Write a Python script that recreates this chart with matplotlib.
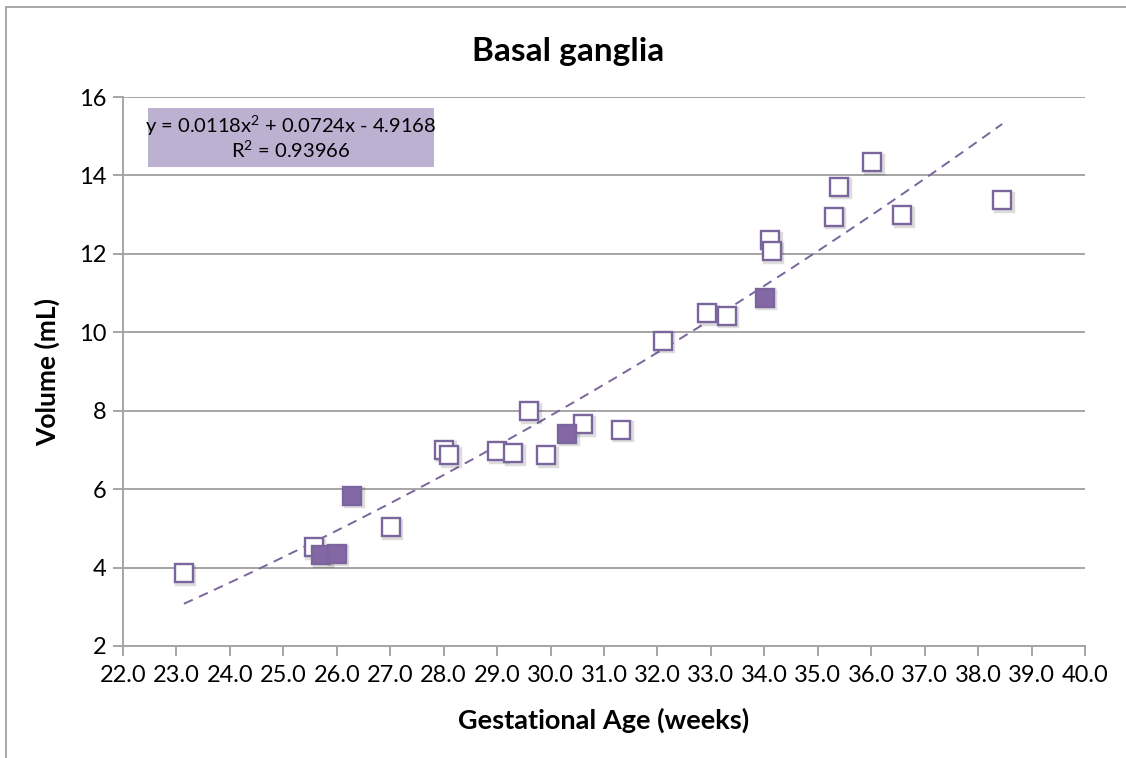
import matplotlib
matplotlib.use("Agg")
import matplotlib.pyplot as plt
import numpy as np
from matplotlib.lines import Line2D
from matplotlib.patches import Rectangle

plt.rcParams['font.family'] = ['Lato', 'DejaVu Sans']
plt.rcParams['mathtext.fontset'] = 'custom'
plt.rcParams['mathtext.rm'] = 'Lato'
plt.rcParams['mathtext.it'] = 'Lato:italic'
plt.rcParams['mathtext.bf'] = 'Lato:bold'

# Data
open_age = [23.14, 25.57, 27.01, 28.01, 28.10, 29.00, 29.30, 29.60, 29.92, 30.61,
             31.32, 32.10, 32.93, 33.30, 34.11, 34.14, 35.30, 35.40, 36.02, 36.58, 38.45]
open_vol = [3.86, 4.52, 5.03, 7.00, 6.87, 6.97, 6.92, 7.99, 6.87, 7.66,
            7.51, 9.78, 10.49, 10.42, 12.35, 12.07, 12.94, 13.71, 14.34, 12.99, 13.37]
filled_age = [25.71, 26.00, 26.29, 30.31, 34.01]
filled_vol = [4.32, 4.35, 5.83, 7.41, 10.88]

fit_coef = [0.0118, 0.0724, -4.9168]
r_squared = 0.93966

x_ticks = [22 + i for i in range(19)]
y_ticks = [2, 4, 6, 8, 10, 12, 14, 16]

purple_edge = '#7A659C'
purple_fill = '#8468A6'
grid_gray = '#A5A5A5'

fig = plt.figure(figsize=(11.26, 7.58), dpi=100)
ax = fig.add_axes([123/1126, 1-646/758, (1085-123)/1126, (646-97)/758])

ax.set_xlim(22, 40)
ax.set_ylim(2, 16)
ax.set_xticks(x_ticks)
ax.set_xticklabels([f"{t:.1f}" for t in x_ticks])
ax.set_yticks(y_ticks)
ax.set_yticklabels([str(t) for t in y_ticks])

ax.grid(axis='y', color=grid_gray, linewidth=1.4)
ax.set_axisbelow(True)
for s in ['top', 'right']:
    ax.spines[s].set_visible(False)
for s in ['left', 'bottom']:
    ax.spines[s].set_color(grid_gray)
    ax.spines[s].set_linewidth(1.4)
ax.tick_params(axis='both', colors=grid_gray, length=7, width=1.4, labelcolor='black',
               labelsize=17)
ax.tick_params(axis='x', pad=7)
ax.tick_params(axis='y', pad=5)

# trend line
all_age = np.array(open_age + filled_age)
xs = np.linspace(all_age.min(), all_age.max(), 200)
ys = np.polyval(fit_coef, xs)
ax.plot(xs, ys, linestyle=(0, (5, 3.5)), color=purple_edge, linewidth=1.4, zorder=2)

# shadows
shadow = ax.transData + matplotlib.transforms.ScaledTranslation(1.5/100, -1.5/100, fig.dpi_scale_trans)
ax.plot(open_age + filled_age, open_vol + filled_vol, linestyle='none', marker='s', markersize=13.5,
        markerfacecolor='none', markeredgecolor='#00000022', markeredgewidth=2.5,
        transform=shadow, zorder=3)
ax.plot(open_age, open_vol, linestyle='none', marker='s', markersize=13.5,
        markerfacecolor='white', markeredgecolor=purple_edge, markeredgewidth=1.7, zorder=4)
ax.plot(filled_age, filled_vol, linestyle='none', marker='s', markersize=13.5,
        markerfacecolor=purple_fill, markeredgecolor=purple_edge, markeredgewidth=1.7, zorder=5)

# equation box
fig.add_artist(Rectangle((148/1126, 1-167/758), (434-148)/1126, (167-108)/758,
                         transform=fig.transFigure, facecolor='#BDB1D2', edgecolor='none',
                         zorder=3))
c2, c1, c0 = fit_coef
sign = '-' if c0 < 0 else '+'
fig.text(291/1126, 1-126/758, f"y = {c2}x$^2$ + {c1}x {sign} {abs(c0)}",
         ha='center', va='center', fontsize=14.5, color='black', zorder=4)
fig.text(291/1126, 1-150/758, f"R$^2$ = {r_squared}",
         ha='center', va='center', fontsize=14.5, color='black', zorder=4)

fig.text(568/1126, 1-52/758, 'Basal ganglia', ha='center', va='center',
         fontsize=24, fontweight='bold')
fig.text(604/1126, 1-720/758, 'Gestational Age (weeks)', ha='center', va='center',
         fontsize=19.5, fontweight='bold')
fig.text(47/1126, 1-372/758, 'Volume (mL)', ha='center', va='center',
         fontsize=19, fontweight='bold', rotation=90)

# outer chart frame (top and left)
frame_col = '#A8A8A8'
fig.add_artist(Line2D([6/1126, 1.0], [1-7/758, 1-7/758], transform=fig.transFigure,
                      color=frame_col, linewidth=1.4))
fig.add_artist(Line2D([6/1126, 6/1126], [0, 1-7/758], transform=fig.transFigure,
                      color=frame_col, linewidth=1.4))

fig.savefig('out.png', dpi=100)
